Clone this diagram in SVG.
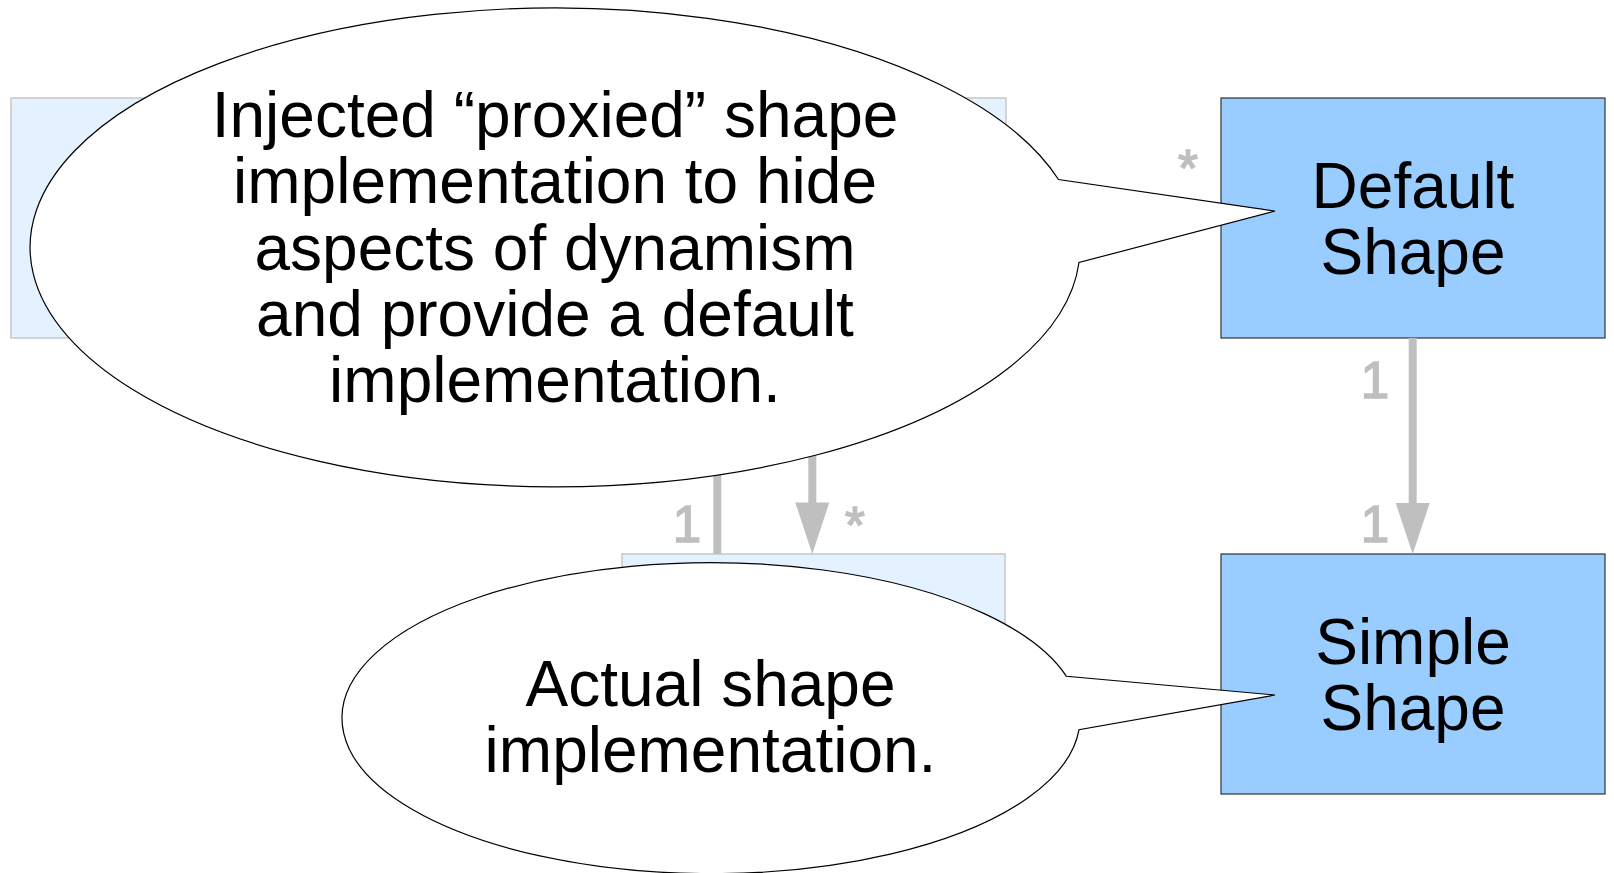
<svg xmlns="http://www.w3.org/2000/svg" width="1614" height="873" viewBox="0 0 1614 873">
  <style>
    .ghost { fill: #e4f1fe; stroke: #c8c8c8; stroke-width: 1.5; }
    .cls { fill: #99ccff; stroke: #333333; stroke-width: 1.2; }
    .lbl { font-family: "Liberation Sans", Arial, sans-serif; font-size: 64px; fill: #000000; text-anchor: middle; }
    .mult { font-family: "Liberation Sans", Arial, sans-serif; font-size: 51px; fill: #bfbfbf; stroke: #bfbfbf; stroke-width: 1.6; text-anchor: middle; }
    .link { stroke: #bfbfbf; stroke-width: 8; fill: none; }
    .head { fill: #bfbfbf; }
    .callout { fill: #ffffff; stroke: #000000; stroke-width: 1.2; }
  </style>
  <rect width="1614" height="873" fill="#ffffff"/>

  <!-- faded class boxes behind the callouts -->
  <g id="proxy-shape">
    <rect class="ghost" x="11" y="98" width="995" height="240"/>
  </g>
  <g id="actual-shape">
    <rect class="ghost" x="622" y="554" width="383" height="240"/>
  </g>

  <g id="default-shape">
    <rect class="cls" x="1221" y="98" width="384" height="240"/>
    <text class="lbl" x="1413" y="208">Default</text>
    <text class="lbl" x="1413" y="274">Shape</text>
  </g>

  <g id="simple-shape">
    <rect class="cls" x="1221" y="554" width="384" height="240"/>
    <text class="lbl" x="1413" y="664">Simple</text>
    <text class="lbl" x="1413" y="730">Shape</text>
  </g>

  <!-- associations -->
  <g id="connectors">
    <line class="link" x1="1412.7" y1="338" x2="1412.7" y2="505"/>
    <polygon class="head" points="1395.7,503 1429.7,503 1412.7,554"/>
    <line class="link" x1="717.3" y1="338" x2="717.3" y2="554"/>
    <line class="link" x1="812.3" y1="338" x2="812.3" y2="505"/>
    <polygon class="head" points="795.3,502.5 829.3,502.5 812.3,554"/>
    <text class="mult" x="1188" y="186">*</text>
    <text class="mult" x="1375" y="398">1</text>
    <text class="mult" x="1375" y="542">1</text>
    <text class="mult" x="687" y="542">1</text>
    <text class="mult" x="855" y="543">*</text>
  </g>

  <!-- speech-bubble notes -->
  <g id="note-proxy">
    <path class="callout" d="M 1058.5 179.5 A 525 239.4 0 1 0 1079 262.5 L 1275 211 Z"/>
    <text class="lbl" x="555" y="137">Injected “proxied” shape</text>
    <text class="lbl" x="555" y="203.3">implementation to hide</text>
    <text class="lbl" x="555" y="269.5">aspects of dynamism</text>
    <text class="lbl" x="555" y="335.7">and provide a default</text>
    <text class="lbl" x="555" y="402">implementation.</text>
  </g>

  <g id="note-actual">
    <path class="callout" d="M 1066.4 676.3 A 369 155.5 0 1 0 1079 729.7 L 1275 695 Z"/>
    <text class="lbl" x="710.5" y="705.7">Actual shape</text>
    <text class="lbl" x="710.5" y="771.7">implementation.</text>
  </g>
</svg>
